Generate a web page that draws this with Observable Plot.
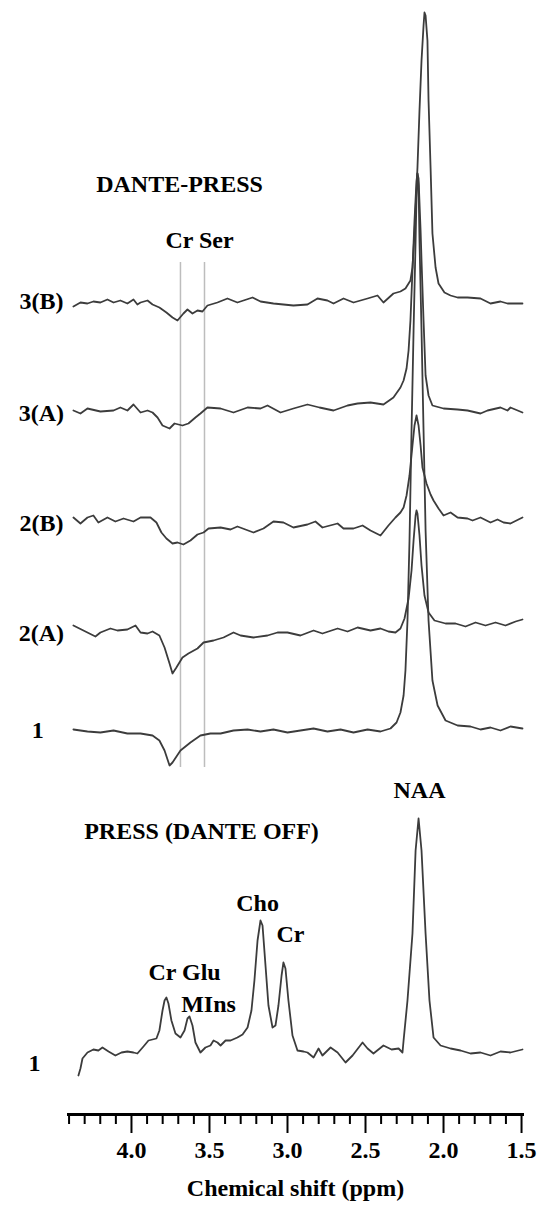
<!DOCTYPE html>
<html><head><meta charset="utf-8">
<script src="https://cdn.jsdelivr.net/npm/d3@7"></script>
<script src="https://cdn.jsdelivr.net/npm/@observablehq/plot@0.6"></script>
<style>html,body{margin:0;padding:0;background:#fff;} #chart svg{display:block;}</style>
</head><body><div id="chart"></div>
<script>
// ---- data: [chemical shift (ppm), intensity (a.u., relative to each trace's baseline)] ----
const spec3B = [[4.372,-4],[4.327,0],[4.282,-1],[4.244,1],[4.199,0],[4.154,3],[4.115,0],[4.071,2],[4.026,-1],[3.987,3],[3.962,-2],[3.942,0],[3.897,2],[3.865,-2],[3.821,-5],[3.776,-10],[3.737,-15],[3.705,-18],[3.667,-11],[3.641,-7],[3.609,-11],[3.577,-8],[3.545,-9],[3.513,-3],[3.449,0],[3.385,4],[3.321,0],[3.224,5],[3.173,1],[3.090,-1],[2.962,-3],[2.872,-2],[2.808,4],[2.744,2],[2.705,-1],[2.641,4],[2.577,0],[2.487,4],[2.423,7],[2.385,0],[2.321,9],[2.276,11],[2.244,14],[2.212,22],[2.199,35],[2.186,69],[2.167,135],[2.154,192],[2.141,242],[2.128,277],[2.122,290],[2.115,287],[2.103,262],[2.096,202],[2.083,135],[2.071,69],[2.051,35],[2.032,19],[1.994,10],[1.955,7],[1.910,5],[1.846,5],[1.763,4],[1.699,-1],[1.635,1],[1.590,-1],[1.494,-1]];
const spec3A = [[4.372,0],[4.327,-3],[4.282,2],[4.199,-1],[4.115,0],[4.071,3],[4.026,0],[3.987,6],[3.942,-2],[3.897,0],[3.865,-2],[3.833,-7],[3.801,-15],[3.756,-18],[3.724,-13],[3.673,-15],[3.635,-13],[3.590,-7],[3.558,-3],[3.513,3],[3.429,2],[3.346,-2],[3.256,3],[3.173,2],[3.128,5],[3.045,-2],[2.962,2],[2.872,6],[2.795,3],[2.705,0],[2.615,5],[2.551,7],[2.468,8],[2.385,6],[2.321,13],[2.276,23],[2.256,30],[2.237,42],[2.224,60],[2.212,90],[2.199,140],[2.186,190],[2.173,230],[2.167,237],[2.160,232],[2.147,180],[2.141,150],[2.128,90],[2.115,35],[2.096,15],[2.071,5],[2.000,2],[1.910,1],[1.846,0],[1.763,-3],[1.718,0],[1.635,3],[1.590,0],[1.571,3],[1.494,-2]];
const spec2B = [[4.372,1],[4.327,-5],[4.282,1],[4.244,3],[4.212,-4],[4.154,1],[4.103,-3],[4.051,0],[3.987,-3],[3.942,1],[3.878,1],[3.840,-4],[3.808,-14],[3.776,-20],[3.737,-25],[3.705,-24],[3.667,-26],[3.622,-22],[3.577,-16],[3.538,-14],[3.506,-10],[3.429,-9],[3.365,-11],[3.321,-8],[3.218,-14],[3.154,-10],[3.090,-3],[3.026,-4],[2.962,-9],[2.872,-6],[2.821,-3],[2.776,-9],[2.679,-5],[2.641,-10],[2.577,-10],[2.519,-7],[2.468,-12],[2.404,-17],[2.353,-7],[2.308,1],[2.276,6],[2.256,11],[2.237,23],[2.218,43],[2.199,73],[2.186,93],[2.173,103],[2.160,93],[2.147,73],[2.135,51],[2.109,35],[2.083,24],[2.064,18],[2.032,10],[2.000,3],[1.955,6],[1.910,1],[1.846,0],[1.814,-2],[1.763,1],[1.699,-4],[1.654,-1],[1.615,-4],[1.571,-5],[1.494,1]];
const spec2A = [[4.372,3],[4.308,-2],[4.231,-8],[4.199,-4],[4.135,0],[4.090,-2],[4.026,-1],[3.974,3],[3.942,-4],[3.897,-5],[3.865,-3],[3.821,-7],[3.788,-19],[3.756,-35],[3.737,-45],[3.712,-39],[3.673,-29],[3.635,-25],[3.577,-20],[3.538,-14],[3.474,-12],[3.410,-9],[3.346,-4],[3.301,-7],[3.218,-9],[3.128,-7],[3.064,-4],[3.000,-4],[2.917,-7],[2.833,-2],[2.776,-5],[2.679,0],[2.615,-3],[2.551,1],[2.468,-2],[2.404,0],[2.353,-3],[2.308,-4],[2.276,0],[2.250,10],[2.224,30],[2.205,58],[2.192,88],[2.179,113],[2.173,118],[2.167,115],[2.154,93],[2.141,63],[2.122,33],[2.096,16],[2.058,8],[1.987,5],[1.923,5],[1.859,2],[1.795,6],[1.731,3],[1.667,6],[1.603,3],[1.538,7],[1.494,9]];
const spec1 = [[4.372,1],[4.282,-1],[4.199,-2],[4.115,0],[4.026,-3],[3.942,-3],[3.865,-5],[3.821,-10],[3.788,-20],[3.756,-35],[3.737,-32],[3.686,-20],[3.622,-12],[3.558,-5],[3.494,-3],[3.429,-3],[3.346,0],[3.256,1],[3.173,-1],[3.090,1],[3.000,-2],[2.917,0],[2.833,2],[2.744,-1],[2.660,1],[2.577,-2],[2.487,1],[2.404,-1],[2.340,2],[2.301,8],[2.276,18],[2.256,35],[2.244,60],[2.231,110],[2.218,190],[2.205,300],[2.192,400],[2.179,490],[2.173,535],[2.167,557],[2.160,545],[2.154,490],[2.141,400],[2.128,300],[2.115,200],[2.096,110],[2.071,50],[2.038,25],[1.987,10],[1.910,5],[1.827,4],[1.763,1],[1.699,3],[1.635,0],[1.571,4],[1.494,2]];
const specPress = [[4.340,-25],[4.327,-18],[4.314,-8],[4.282,-2],[4.244,1],[4.212,0],[4.186,3],[4.147,-1],[4.103,-5],[4.064,-2],[4.026,-1],[3.987,-2],[3.962,-3],[3.923,4],[3.891,10],[3.865,11],[3.840,12],[3.821,20],[3.801,40],[3.788,50],[3.776,53],[3.763,47],[3.744,30],[3.718,17],[3.686,13],[3.660,20],[3.641,32],[3.628,34],[3.609,25],[3.590,8],[3.558,-2],[3.526,3],[3.494,5],[3.474,10],[3.449,8],[3.429,5],[3.397,10],[3.365,10],[3.321,13],[3.288,16],[3.256,23],[3.231,40],[3.212,70],[3.192,110],[3.173,130],[3.160,125],[3.141,85],[3.122,45],[3.096,23],[3.077,25],[3.058,45],[3.038,75],[3.026,88],[3.013,82],[2.994,50],[2.968,15],[2.936,0],[2.897,-1],[2.872,-2],[2.833,-7],[2.801,2],[2.776,-5],[2.724,3],[2.679,-2],[2.628,-12],[2.583,-5],[2.519,8],[2.487,2],[2.449,-3],[2.385,5],[2.333,1],[2.288,2],[2.263,-2],[2.256,10],[2.231,50],[2.199,117],[2.179,200],[2.160,232],[2.141,200],[2.115,117],[2.090,50],[2.064,13],[2.019,5],[1.955,2],[1.891,0],[1.827,-3],[1.763,-2],[1.699,-5],[1.635,-1],[1.571,-2],[1.494,1]];

const traceNames = ["3(B)", "3(A)", "2(B)", "2(A)", "1", "PRESS 1"];
const traceData  = [spec3B, spec3A, spec2B, spec2A, spec1, specPress];
const traceOffsets = [812, 704, 596, 486, 384, 64];   // vertical stacking (layout)

const traceLabels = ["3(B)", "3(A)", "2(B)", "2(A)", "1", "1"];
const peakLabels = ["NAA", "Cho", "Cr", "Cr Glu", "MIns"];
const peakLabelPpm = [2.154, 3.192, 2.981, 3.660, 3.506];
const markerPpm = [3.686, 3.532];          // Cr, Ser guide lines
const majorTicks = [4.0, 3.5, 3.0, 2.5, 2.0, 1.5];
const minorTicks = [4.4, 4.3, 4.2, 4.1, 3.9, 3.8, 3.7, 3.6, 3.4, 3.3, 3.2, 3.1, 2.9, 2.8, 2.7, 2.6, 2.4, 2.3, 2.2, 2.1, 1.9, 1.8, 1.7, 1.6];

// ---- build tables ----
const rows = traceData.flatMap((arr, i) => arr.map(([ppm, v]) => ({ppm, y: v + traceOffsets[i], trace: traceNames[i]})));
const labelX = [4.577, 4.577, 4.577, 4.577, 4.600, 4.622];
const labelY = [806, 694, 584, 474, 377, 44];
const traceLabelRows = traceLabels.map((t, i) => ({t, x: labelX[i], y: labelY[i]}));
const peakLabelY = [317, 204, 173, 135, 103];
const peakLabelRows = peakLabels.map((t, i) => ({t, x: peakLabelPpm[i], y: peakLabelY[i]}));
const headRows = [
  {t: "DANTE-PRESS", x: 3.692, y: 923},
  {t: "Cr Ser", x: 3.564, y: 867},
  {t: "PRESS (DANTE OFF)", x: 3.551, y: 276},
  {t: "Chemical shift (ppm)", x: 2.949, y: -81}
];

const font = "Liberation Serif, Times New Roman, serif";
const fs = 24;

const chart = Plot.plot({
  width: 545, height: 1207,
  marginLeft: 67, marginRight: 21, marginTop: 0, marginBottom: 93,
  x: {domain: [4.410, 1.481], axis: null},
  y: {domain: [0, 1114], axis: null},
  style: {fontFamily: font, background: "#fff"},
  marks: [
    Plot.ruleX(markerPpm, {x: d => d, y1: 347, y2: 852, stroke: "#bdbdbd", strokeWidth: 1.5}),
    Plot.line(rows, {x: "ppm", y: "y", z: "trace", stroke: "#3c3c3c", strokeWidth: 1.8, strokeLinejoin: "round"}),
    Plot.ruleY([0], {stroke: "#000", strokeWidth: 3}),
    Plot.ruleX(minorTicks, {x: d => d, y1: 0, y2: -10, stroke: "#000", strokeWidth: 2}),
    Plot.axisX({ticks: majorTicks, tickSize: 19, tickPadding: 7, strokeWidth: 2, stroke: "#000",
      tickFormat: d => d.toFixed(1), fontSize: fs, fontWeight: "bold", fill: "#000", fontFamily: font}),
    Plot.text(traceLabelRows, {x: "x", y: "y", text: "t", lineAnchor: "bottom", fontSize: fs, fontWeight: "bold", fill: "#000", fontFamily: font}),
    Plot.text(peakLabelRows, {x: "x", y: "y", text: "t", lineAnchor: "bottom", fontSize: fs, fontWeight: "bold", fill: "#000", fontFamily: font}),
    Plot.text(headRows, {x: "x", y: "y", text: "t", lineAnchor: "bottom", fontSize: fs, fontWeight: "bold", fill: "#000", fontFamily: font})
  ]
});
document.getElementById("chart").appendChild(chart);
</script>
</body></html>
